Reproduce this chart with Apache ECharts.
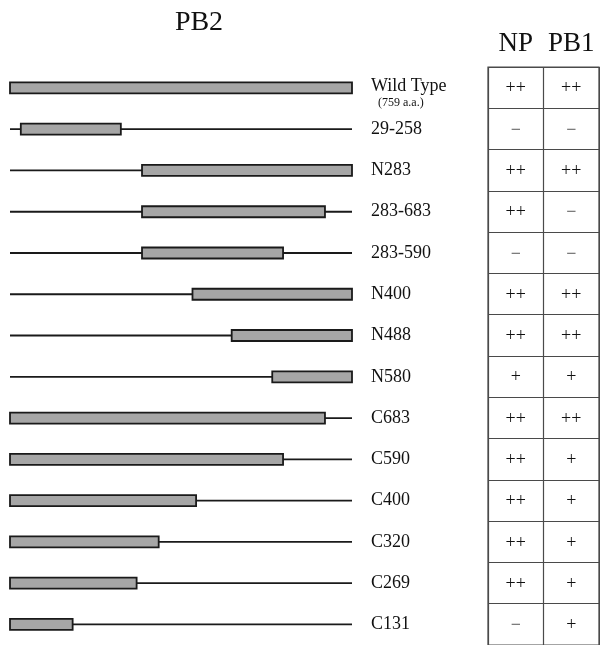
<!DOCTYPE html>
<html>
<head>
<meta charset="utf-8">
<script src="https://cdn.jsdelivr.net/npm/echarts@6/dist/echarts.min.js"></script>
<style>html,body{margin:0;padding:0;background:#fff}#c{width:600px;height:645px}</style>
</head>
<body>
<div id="c"></div>
<script>
// ---- data ----
const proteinLength = 759;
const constructs = ['Wild Type','29-258','N283','283-683','283-590','N400','N488','N580','C683','C590','C400','C320','C269','C131'];
const subLabels  = ['(759 a.a.)','','','','','','','','','','','','',''];
// box extents as drawn in the picture (amino-acid scale)
const boxStart = [0, 24, 293, 293, 293, 405, 492, 582, 0, 0, 0, 0, 0, 0];
const boxEnd   = [759, 246, 759, 699, 606, 759, 759, 759, 699, 606, 413, 330, 281, 139];
const tableColumns = ['NP','PB1'];
const npBinding  = ['++','−','++','++','−','++','++','+','++','++','++','++','++','−'];
const pb1Binding = ['++','−','++','−','−','++','++','+','++','+','+','+','+','+'];

const serif = '"Liberation Serif", "DejaVu Serif", serif';
const chart = echarts.init(document.getElementById('c'));

const diagramData = constructs.map((c, i) => [boxStart[i], i, boxEnd[i]]);
const tableData = [];
constructs.forEach((c, i) => { tableData.push([0, i]); tableData.push([1, i]); });

chart.setOption({
  animation: false,
  backgroundColor: '#fff',
  graphic: [{
    type: 'text', x: 199, y: 23,
    style: { text: 'PB2', font: '28px ' + serif, fill: '#111', align: 'center', verticalAlign: 'middle' }
  }],
  grid: [
    { left: 10, top: 67.3, width: 342, height: 579.4 },
    { left: 488, top: 67, width: 111, height: 583.8, show: true, borderColor: '#4a4a4a', borderWidth: 1.2, backgroundColor: 'transparent' }
  ],
  xAxis: [
    { gridIndex: 0, type: 'value', min: 0, max: proteinLength, show: false },
    { gridIndex: 1, type: 'category', data: tableColumns, position: 'top',
      axisLine: { show: false }, axisTick: { show: false, interval: 0 },
      axisLabel: { interval: 0, hideOverlap: false, fontFamily: serif, fontSize: 27, color: '#111', margin: 10 },
      splitLine: { show: true, interval: 0, lineStyle: { color: '#4a4a4a', width: 1.2 } } }
  ],
  yAxis: [
    { gridIndex: 0, type: 'category', data: constructs, inverse: true, show: false },
    { gridIndex: 1, type: 'category', data: constructs, inverse: true,
      axisLine: { show: false }, axisTick: { show: false, interval: 0 }, axisLabel: { show: false, interval: 0 },
      splitLine: { show: true, interval: 0, lineStyle: { color: '#4a4a4a', width: 1.2 } } }
  ],
  series: [
    {
      type: 'custom', xAxisIndex: 0, yAxisIndex: 0,
      data: diagramData,
      encode: { x: [0, 2], y: 1 },
      renderItem: function (params, api) {
        const s = api.value(0), i = api.value(1), e = api.value(2);
        const p0 = api.coord([0, i]);
        const p1 = api.coord([proteinLength, i]);
        const y = p0[1];
        const bs = api.coord([s, i])[0];
        const be = api.coord([e, i])[0];
        const idx = params.dataIndex;
        const sub = subLabels[idx];
        const children = [
          { type: 'line', shape: { x1: p0[0], y1: y, x2: p1[0], y2: y }, style: { stroke: '#1a1a1a', lineWidth: 1.8 } },
          { type: 'rect', shape: { x: bs, y: y - 5.5, width: be - bs, height: 11 }, style: { fill: '#a6a6a6', stroke: '#1a1a1a', lineWidth: 1.8 } },
          { type: 'text', style: { text: constructs[idx], x: p1[0] + 19, y: sub ? y - 2 : y, font: '18px ' + serif, fill: '#111', verticalAlign: 'middle', align: 'left' } }
        ];
        if (sub) {
          children.push({ type: 'text', style: { text: sub, x: p1[0] + 26, y: y + 15, font: '12px ' + serif, fill: '#111', verticalAlign: 'middle', align: 'left' } });
        }
        return { type: 'group', children: children };
      }
    },
    {
      type: 'custom', xAxisIndex: 1, yAxisIndex: 1,
      data: tableData,
      encode: { x: 0, y: 1 },
      renderItem: function (params, api) {
        const col = api.value(0), row = api.value(1);
        const p = api.coord([col, row]);
        const txt = col === 0 ? npBinding[row] : pb1Binding[row];
        return { type: 'text', style: { text: txt, x: p[0], y: p[1] + 1, font: '18px ' + serif, fill: txt === '−' ? '#444' : '#111', align: 'center', verticalAlign: 'middle' } };
      }
    }
  ]
});
</script>
</body>
</html>
